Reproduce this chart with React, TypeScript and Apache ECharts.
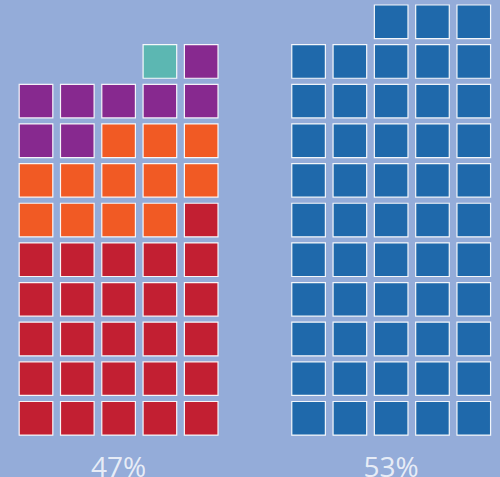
import React, { useEffect, useRef } from "react";
import * as echarts from "echarts";

// Waffle data: each group is a list of categories with square counts
const groupLabels = ["47%", "53%"];
const leftNames = ["Red", "Orange", "Purple", "Teal"];
const leftCounts = [26, 12, 8, 1];
const leftColors = ["#C21F32", "#F15A24", "#87298F", "#5CB7B2"];
const rightNames = ["Blue"];
const rightCounts = [53];
const rightColors = ["#1F69AB"];

const COLS = 5;
const GROUP_OFFSET = 6.6;

function buildCells(counts: number[], names: string[], colors: string[], xOffset: number) {
  const cells: any[] = [];
  let idx = 0;
  counts.forEach((c, k) => {
    for (let j = 0; j < c; j++) {
      const row = Math.floor(idx / COLS);
      const col = COLS - 1 - (idx % COLS);
      cells.push({ value: [xOffset + col, row], name: names[k], itemStyle: { color: colors[k] } });
      idx++;
    }
  });
  return cells;
}

export default function App() {
  const ref = useRef<HTMLDivElement>(null);
  useEffect(() => {
    document.body.style.margin = "0";
    const chart = echarts.init(ref.current!, null, { renderer: "svg" });
    const cells = [
      ...buildCells(leftCounts, leftNames, leftColors, 0),
      ...buildCells(rightCounts, rightNames, rightColors, GROUP_OFFSET),
    ];
    const labelRow = -1.2;
    chart.setOption({
      animation: false,
      backgroundColor: "#94ACD9",
      grid: { left: 0, right: 0, top: 0, bottom: 0 },
      xAxis: { type: "value", min: -0.8717, max: 11.235, show: false },
      yAxis: { type: "value", min: -1.4805, max: 10.55, show: false },
      series: [
        {
          type: "scatter",
          symbol: "rect",
          symbolSize: 33.6,
          data: cells,
          itemStyle: { borderColor: "rgba(255,255,255,0.92)", borderWidth: 1.2, opacity: 1 },
        },
        {
          type: "scatter",
          symbolSize: 0,
          data: groupLabels.map((l, i) => ({ value: [i * GROUP_OFFSET + 2, labelRow], name: l })),
          label: {
            show: true,
            position: "inside",
            formatter: (p: any) => p.name,
            color: "#ffffff",
            fontSize: 28,
            fontFamily: "Open Sans",
          },
        },
      ],
    });
    return () => chart.dispose();
  }, []);
  return <div ref={ref} style={{ width: 500, height: 477 }} />;
}
